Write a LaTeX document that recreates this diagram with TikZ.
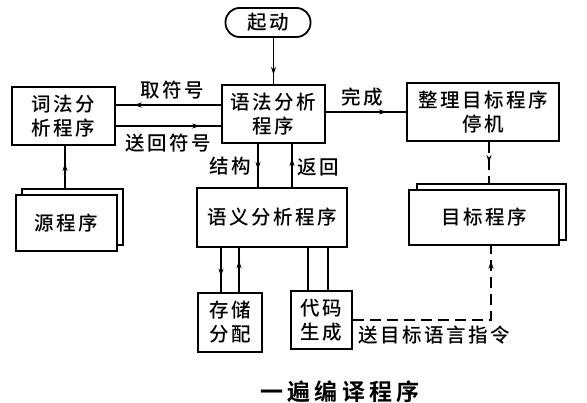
\documentclass[tikz,border=0pt]{standalone}
\usepackage{fontspec}
\newfontfamily\cjk{Noto Sans CJK SC Medium}[LetterSpace=13]
\newfontfamily\cjkt{Noto Sans CJK SC Bold}[LetterSpace=18]
\usetikzlibrary{arrows.meta,decorations.markings,calc}
\tikzset{
  box/.style={draw,line width=1.8pt,rectangle,inner sep=0pt,align=center,font=\cjk\fontsize{19.5}{24}\selectfont},
  lbl/.style={inner sep=0pt,font=\cjk\fontsize{19.5}{24}\selectfont},
  conn/.style={line width=1.5pt},
  dconn/.style={line width=1.3pt,dash pattern=on 11pt off 6pt},
  tip/.tip={Stealth[length=8pt,width=5pt]},
  markat/.style={postaction={decorate},decoration={markings,mark=at position #1 with {\arrow{tip}}}},
}
\begin{document}
\begin{tikzpicture}[x=1pt,y=-1pt]
\useasboundingbox (0,0) rectangle (587,403);
% nodes
\node[box,rounded corners=14pt,minimum width=85pt,minimum height=29pt] (start) at (268,22.5) {起动};
\node[box,minimum width=103pt,minimum height=58pt] (lex) at (63.5,116) {词法分\\析程序};
\node[box,minimum width=103pt,minimum height=58pt] (syn) at (273.5,114) {语法分析\\程序};
\node[box,minimum width=152pt,minimum height=58pt] (tidy) at (483,112) {整理目标程序\\停机};
% source program (stacked)
\draw[line width=1.4pt,fill=white] (22,189) rectangle (123,245);
\node[box,fill=white,minimum width=101pt,minimum height=56pt] (src) at (66.5,223) {源程序};
% target program (stacked)
\draw[line width=1.4pt,fill=white] (417,184) rectangle (566,240);
\node[box,fill=white,minimum width=150pt,minimum height=55pt] (target) at (484,217.5) {目标程序};
\node[box,minimum width=150pt,minimum height=59pt] (sem) at (272,217.5) {语义分析程序};
\node[box,minimum width=64pt,minimum height=59pt] (store) at (230,322.5) {存储\\分配};
\node[box,minimum width=61pt,minimum height=58pt] (code) at (321.5,320) {代码\\生成};
% helper coordinates
\coordinate (yA) at (0,105);
\coordinate (yB) at (0,126);
\coordinate (yC) at (0,112);
\coordinate (xS) at (65,189);
\coordinate (xJ) at (258,0);
\coordinate (xF) at (292,0);
\coordinate (xM1) at (221,0);
\coordinate (xM2) at (239,0);
\coordinate (xC1) at (308,0);
\coordinate (xC2) at (328,0);
\coordinate (xT) at (489,0);
\coordinate (tback) at (489,184);
\coordinate (corner) at (491,320);
% connectors
\draw[conn,markat=0.8] (syn.north |- start.south) -- (syn.north);
\draw[conn,markat=0.83] (syn.west |- yA) -- (lex.east |- yA);
\draw[conn,markat=0.8] (lex.east |- yB) -- (syn.west |- yB);
\draw[conn,markat=0.76] (syn.east |- yC) -- (tidy.west |- yC);
\draw[conn,markat=0.6] (xS) -- (lex.south -| xS);
\draw[conn,markat=0.6] (syn.south -| xJ) -- (sem.north -| xJ);
\draw[conn,markat=0.67] (sem.north -| xF) -- (syn.south -| xF);
\draw[conn,markat=0.65] (sem.south -| xM1) -- (store.north -| xM1);
\draw[conn,markat=0.72] (store.north -| xM2) -- (sem.south -| xM2);
\draw[conn] (sem.south -| xC1) -- (code.north -| xC1);
\draw[conn] (sem.south -| xC2) -- (code.north -| xC2);
\draw[dconn,markat=0.5] (tidy.south -| xT) -- (tback);
\draw[dconn,markat=0.93] (code.east |- corner) -- (corner) -- (target.south -| corner);
% labels
\node[lbl] (l1) at (172,90) {取符号};
\node[lbl] (l2) at (168,143) {送回符号};
\node[lbl] (l3) at (362,97) {完成};
\node[lbl] (l4) at (230,166) {结构};
\node[lbl] (l5) at (318,167) {返回};
\node[lbl,anchor=west] (l6) at (358,335) {送目标语言指令};
\node[inner sep=0pt,font=\cjkt\fontsize{23}{28}\selectfont] (title) at (340,392) {一遍编译程序};
\end{tikzpicture}
\end{document}
